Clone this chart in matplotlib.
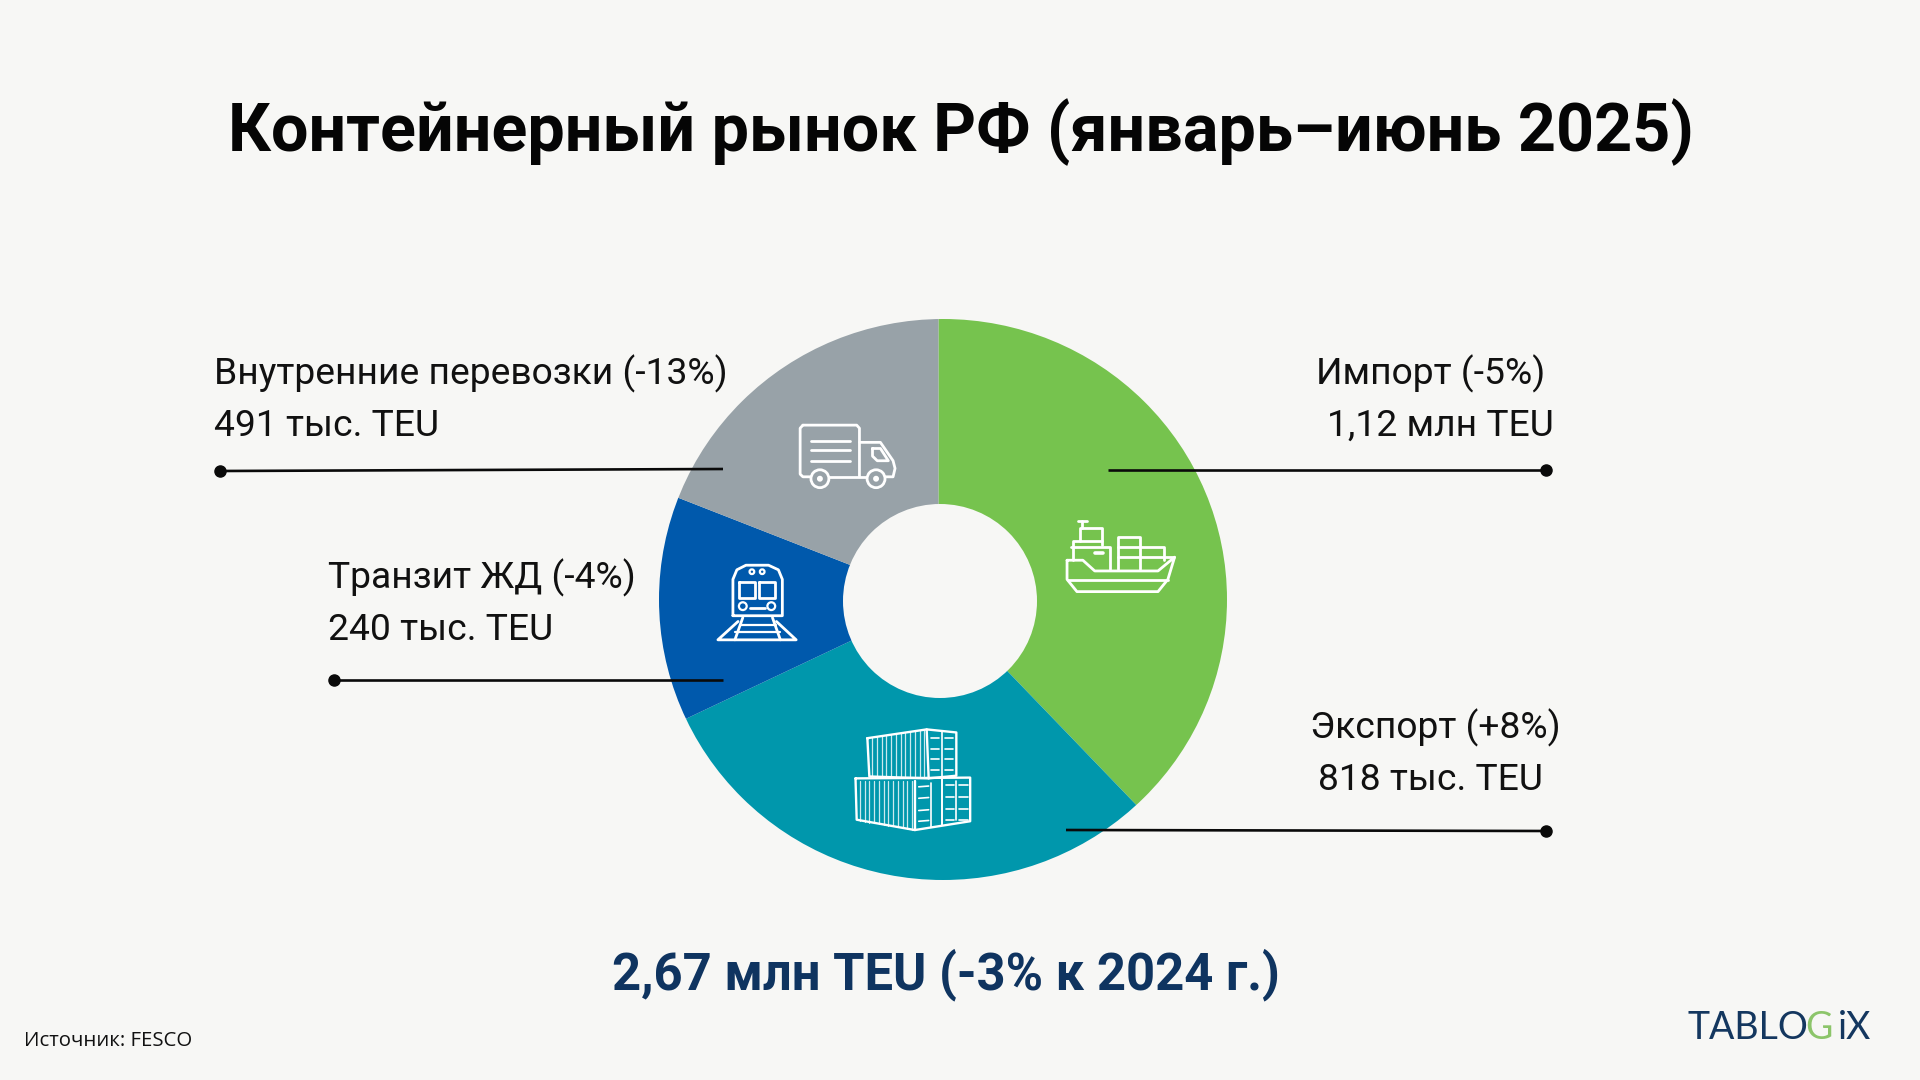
import matplotlib
matplotlib.use('Agg')
from matplotlib import pyplot as plt
from matplotlib.patches import Ellipse, Circle

# share of each slice as drawn in the picture, percent
segments = ['Импорт', 'Экспорт', 'Транзит ЖД', 'Внутренние перевозки']
shares = [37.9, 30.0, 13.1, 19.0]
colors = ['#76C34E', '#0097AC', '#0059AC', '#98A2A8']

title = 'Контейнерный рынок РФ (январь–июнь 2025)'
total = '2,67 млн TEU (-3% к 2024 г.)'
source = 'Источник: FESCO'
label_top = ['Импорт (-5%)', 'Экспорт (+8%)', 'Транзит ЖД (-4%)', 'Внутренние перевозки (-13%)']
label_bottom = ['1,12 млн TEU', '818 тыс. TEU', '240 тыс. TEU', '491 тыс. TEU']

BG = '#F7F7F5'
W, H = 1920, 1080

plt.rcParams['font.family'] = ['Roboto', 'DejaVu Sans']
fig = plt.figure(figsize=(19.2, 10.8), dpi=100, facecolor=BG)

# donut axes, placed by pixels
left, right, top, bottom = 659, 1227, 319, 880
ax = fig.add_axes([left / W, 1 - bottom / H, (right - left) / W, (bottom - top) / H])
wedges, _ = ax.pie(shares, colors=colors, startangle=90, counterclock=False,
                   center=(-0.016, 0), radius=1.06)
ax.set_aspect('auto')
ax.set_xlim(-1, 1)
ax.set_ylim(-1, 1)
ax.axis('off')
clip = Ellipse((0, 0), 2, 2, transform=ax.transData)
for w in wedges:
    w.set_clip_on(True)
    w.set_clip_path(clip)

# overlay in pixel coordinates for text, leaders and icons
ov = fig.add_axes([0, 0, 1, 1], facecolor='none')
ov.set_xlim(0, W)
ov.set_ylim(H, 0)
ov.axis('off')

ov.add_patch(Circle((940, 601), 97, fc=BG, ec='none'))

ov.text(961, 151, title, fontsize=47.9, fontweight='bold', color='#050505', ha='center', va='baseline')
ov.text(946, 989, total, fontsize=36.5, fontweight='bold', color='#0F3460', ha='center', va='baseline')
ov.text(24, 1046, source, fontsize=14.7, family='Open Sans', color='#111111', va='baseline')

label_pos = [(1431, 384, 1440, 436, 'center'), (1435, 738, 1431, 790, 'center'),
             (328, 588, 328, 640, 'left'), (214, 384, 214, 436, 'left')]
for t, b, p in zip(label_top, label_bottom, label_pos):
    ov.text(p[0], p[1], t, fontsize=26.8, color='#111111', ha=p[4], va='baseline')
    ov.text(p[2], p[3], b, fontsize=26.8, color='#111111', ha=p[4], va='baseline')

leaders = [((1108, 470), (1546, 470)), ((1066, 830), (1546, 831)),
           ((723, 680), (334, 680)), ((723, 469), (220, 471))]
for a, b in leaders:
    ov.plot([a[0], b[0]], [a[1], b[1]], color='#0A0A0A', lw=1.9, solid_capstyle='butt')
    ov.plot([b[0]], [b[1]], 'o', color='#0A0A0A', ms=8)


# icons were measured on a zoomed crop of the picture
def z(x, y):
    return 640 + x / 2.529, 300 + y / 2.613


def pl(points, lw=2.0, alpha=1.0, close=False):
    pts = [z(*p) for p in points]
    if close:
        pts.append(pts[0])
    ov.plot([p[0] for p in pts], [p[1] for p in pts], color='white', lw=lw, alpha=alpha,
            solid_joinstyle='round', solid_capstyle='round')


def ring(x, y, r, lw=2.0):
    cx, cy = z(x, y)
    ov.add_patch(Circle((cx, cy), r / 2.57, fc='none', ec='white', lw=lw))


# truck
pl([(412, 327), (548, 327), (555, 335), (555, 462)])
pl([(412, 327), (405, 335), (405, 455), (412, 462), (432, 462)])
pl([(478, 462), (572, 462)])
for y in [368, 393, 420]:
    pl([(432, y), (530, y)])
pl([(555, 372), (608, 372), (640, 420), (645, 440), (640, 462), (620, 462)])
pl([(588, 388), (608, 388), (628, 420), (600, 420), (588, 408)], close=True)
for x in [455, 597]:
    ring(x, 467, 23)
    ring(x, 467, 4)

# train
pl([(235, 825), (235, 730), (245, 705), (268, 693), (325, 693), (350, 705), (360, 730), (360, 825)], close=True)
pl([(250, 738), (290, 738), (290, 778), (250, 778)], close=True)
pl([(302, 738), (342, 738), (342, 778), (302, 778)], close=True)
for x in [283, 309]:
    ring(x, 710, 6, lw=1.6)
for x in [260, 332]:
    ring(x, 800, 10, lw=1.6)
pl([(278, 806), (315, 806)])
pl([(248, 840), (197, 888), (395, 888), (345, 840)])
pl([(260, 830), (240, 888)])
pl([(335, 830), (355, 888)])
for y, x0, x1 in [(848, 252, 343), (868, 240, 355)]:
    pl([(x0, y), (x1, y)], lw=1.6)

# ship
pl([(1080, 680), (1120, 680), (1150, 708), (1310, 708), (1352, 672), (1335, 730), (1310, 762),
    (1105, 762), (1080, 730)], close=True)
pl([(1082, 732), (1335, 732)])
pl([(1108, 578), (1130, 578)])
pl([(1118, 578), (1118, 597)])
pl([(1112, 630), (1112, 597), (1168, 597), (1168, 640)])
pl([(1095, 680), (1095, 630), (1168, 630)])
pl([(1090, 645), (1188, 645), (1188, 702)])
pl([(1150, 662), (1170, 662)], lw=2.6)
pl([(1210, 702), (1210, 620), (1265, 620), (1265, 702)])
pl([(1210, 645), (1325, 645), (1325, 680)])
pl([(1210, 672), (1350, 672)])

# containers
pl([(575, 1145), (725, 1122), (800, 1130), (800, 1243), (730, 1250), (580, 1245)], close=True, lw=1.7)
pl([(725, 1122), (730, 1250)], lw=1.7)
pl([(545, 1250), (835, 1248), (835, 1362), (695, 1385), (548, 1358)], close=True, lw=1.7)
pl([(695, 1258), (695, 1385)], lw=1.7)
pl([(765, 1250), (765, 1372)], lw=1.4)
for x in range(587, 725, 12):
    pl([(x, 1145 - (x - 575) * 0.15), (x, 1245)], lw=0.9, alpha=0.8)
for x in range(556, 695, 12):
    pl([(x, 1258), (x, 1360 + (x - 548) * 0.17)], lw=0.9, alpha=0.8)
pl([(764, 1130), (764, 1246)], lw=1.2)
for y in [1145, 1172, 1200, 1228]:
    pl([(736, y), (756, y)], lw=1.2)
    pl([(772, y), (792, y)], lw=1.2)
pl([(735, 1262), (735, 1376)], lw=1.2)
pl([(800, 1258), (800, 1360)], lw=1.2)
for y in [1268, 1298, 1330, 1358]:
    pl([(705, y + 4), (730, y + 2)], lw=1.2)
    pl([(775, y), (795, y)], lw=1.2)
    pl([(808, y), (830, y)], lw=1.2)

# logo, one piece per colour
for part, c, x in [('TABLO', '#14375F', 1687), ('G', '#8CC56A', 1805), ('iX', '#14375F', 1838)]:
    ov.text(x, 1039, part, fontsize=27, family='Lato', color=c, va='baseline')

fig.savefig('out.png', dpi=100, facecolor=BG)
